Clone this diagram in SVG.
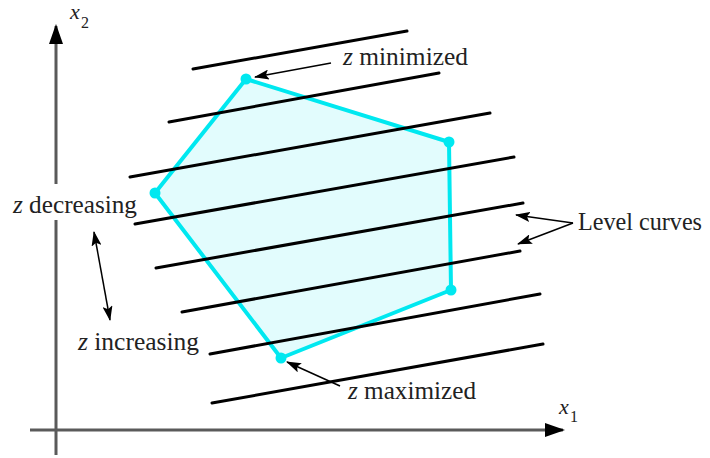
<svg xmlns="http://www.w3.org/2000/svg" width="710" height="458" viewBox="0 0 710 458">
<style>
.lbl{font-family:'Liberation Serif','DejaVu Serif',serif;font-size:26px;fill:#222}
.it{font-style:italic}
.axis{stroke:#5a5a5a;stroke-width:3;fill:none}
.lvl{stroke:#000;stroke-width:3;stroke-linecap:round}
.ptr{stroke:#000;stroke-width:1.5;fill:none}
.vtx{fill:#00e8f0}
</style>
<defs>
<marker id="axhead" markerWidth="20" markerHeight="14" refX="18" refY="7" orient="auto" markerUnits="userSpaceOnUse">
<path d="M0,0 L20,7 L0,14 Z" fill="#000"/>
</marker>
<marker id="ah" markerWidth="15" markerHeight="10" refX="14" refY="5" orient="auto-start-reverse" markerUnits="userSpaceOnUse">
<path d="M0,0 L15,5 L0,10 L3,5 Z" fill="#000"/>
</marker>
</defs>
<g id="axes">
<path class="axis" d="M56 455 V220 M56 184 V26" marker-end="url(#axhead)"/>
<line class="axis" x1="30" y1="430" x2="563" y2="430" marker-end="url(#axhead)"/>
<text class="lbl it" x="70" y="19" font-family="Liberation Serif, DejaVu Serif, serif" style="font-size:22px">x</text>
<text class="lbl" x="81" y="28" font-family="Liberation Serif, DejaVu Serif, serif" style="font-size:16px">2</text>
<text class="lbl it" x="559" y="414" font-family="Liberation Serif, DejaVu Serif, serif" style="font-size:22px">x</text>
<text class="lbl" x="570" y="422" font-family="Liberation Serif, DejaVu Serif, serif" style="font-size:16px">1</text>
</g>
<g id="feasible-region">
<polygon points="246,79 449,142 451,290 281,358 155,193" fill="#e2fcfd" stroke="#00e8f0" stroke-width="4" stroke-linejoin="round"/>
</g>
<g id="level-curves">
<line class="lvl" x1="193" y1="69" x2="407" y2="31"/>
<line class="lvl" x1="169" y1="122" x2="439" y2="73"/>
<line class="lvl" x1="130" y1="177" x2="490" y2="113"/>
<line class="lvl" x1="135" y1="224" x2="514" y2="157"/>
<line class="lvl" x1="156" y1="268" x2="523" y2="203"/>
<line class="lvl" x1="182" y1="312" x2="520" y2="251"/>
<line class="lvl" x1="210" y1="354" x2="540" y2="294"/>
<line class="lvl" x1="212" y1="403" x2="543" y2="344"/>
</g>
<g id="vertices">
<circle class="vtx" cx="246" cy="79" r="5.5"/>
<circle class="vtx" cx="449" cy="142" r="5.5"/>
<circle class="vtx" cx="451" cy="290" r="5.5"/>
<circle class="vtx" cx="281" cy="358" r="5.5"/>
<circle class="vtx" cx="155" cy="193" r="5.5"/>
</g>
<g id="connectors">
<line class="ptr" x1="331" y1="63" x2="255" y2="77" marker-end="url(#ah)"/>
<line class="ptr" x1="573" y1="223" x2="516" y2="215" marker-end="url(#ah)"/>
<line class="ptr" x1="573" y1="223" x2="518" y2="244" marker-end="url(#ah)"/>
<line class="ptr" x1="340" y1="386" x2="287" y2="362" marker-end="url(#ah)"/>
<line class="ptr" x1="94" y1="232" x2="110" y2="320" marker-start="url(#ah)" marker-end="url(#ah)"/>
</g>
<g id="labels" font-family="Liberation Serif, DejaVu Serif, serif">
<text class="lbl" x="343" y="65" textLength="125" lengthAdjust="spacingAndGlyphs"><tspan class="it">z</tspan> minimized</text>
<text class="lbl" x="578" y="230" textLength="124" lengthAdjust="spacingAndGlyphs">Level curves</text>
<text class="lbl" x="13" y="213" textLength="124" lengthAdjust="spacingAndGlyphs"><tspan class="it">z</tspan> decreasing</text>
<text class="lbl" x="78" y="350" textLength="121" lengthAdjust="spacingAndGlyphs"><tspan class="it">z</tspan> increasing</text>
<text class="lbl" x="348" y="399" textLength="128" lengthAdjust="spacingAndGlyphs"><tspan class="it">z</tspan> maximized</text>
</g>
</svg>
